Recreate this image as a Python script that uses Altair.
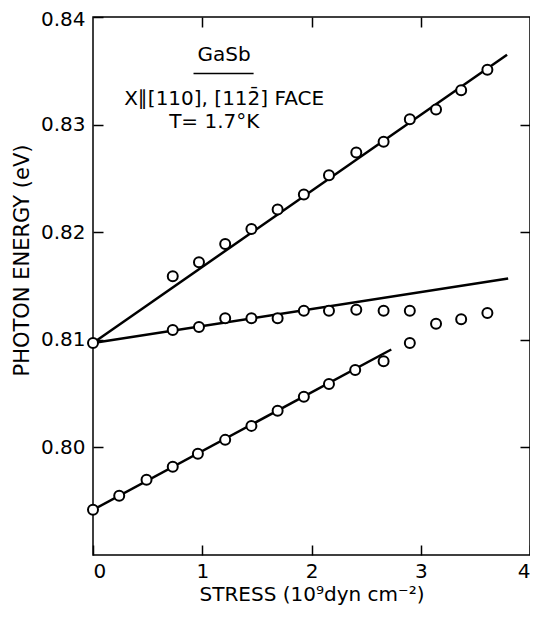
import altair as alt
import pandas as pd

# Data (stress in 1e9 dyn/cm^2, photon energy in eV)
upper_x = [0.73, 0.97, 1.21, 1.45, 1.69, 1.93, 2.16, 2.41, 2.66, 2.90, 3.14, 3.37, 3.61]
upper_y = [0.8159, 0.8172, 0.8189, 0.8203, 0.8221, 0.8235, 0.8253, 0.8274, 0.8284, 0.8305, 0.8314, 0.8332, 0.8351]
middle_x = [0.0, 0.73, 0.97, 1.21, 1.45, 1.69, 1.93, 2.16, 2.41, 2.66, 2.90, 3.14, 3.37, 3.61]
middle_y = [0.8097, 0.8109, 0.8112, 0.8120, 0.8120, 0.8120, 0.8127, 0.8127, 0.8128, 0.8127, 0.8127, 0.8115, 0.8119, 0.8125]
lower_x = [0.0, 0.24, 0.49, 0.73, 0.96, 1.21, 1.45, 1.69, 1.93, 2.16, 2.40, 2.66, 2.90]
lower_y = [0.7942, 0.7955, 0.7970, 0.7982, 0.7994, 0.8007, 0.8020, 0.8034, 0.8047, 0.8059, 0.8072, 0.8080, 0.8097]

# fitted straight lines (endpoints)
fit_names = ["upper", "upper", "middle", "middle", "lower", "lower"]
fit_x = [0.0, 3.79, 0.0, 3.80, 0.0, 2.73]
fit_y = [0.8097, 0.8365, 0.8097, 0.8157, 0.7942, 0.8091]

# annotation
ann_text = ["GaSb", "X\u2225[110], [112\u0304] FACE", "T= 1.7\u00b0K"]
ann_x = [1.2, 1.2, 1.11]
ann_y = [0.8365, 0.83235, 0.83023]
underline_x = [0.92]
underline_x2 = [1.47]
underline_y = [0.83475]

x_ticks = [0, 1, 2, 3, 4]
y_ticks = [0.80, 0.81, 0.82, 0.83, 0.84]

FONT = "DejaVu Sans"

pts = pd.DataFrame({
    "x": upper_x + middle_x + lower_x,
    "y": upper_y + middle_y + lower_y,
})
fits = pd.DataFrame({"series": fit_names, "x": fit_x, "y": fit_y})
ann = pd.DataFrame({"text": ann_text, "x": ann_x, "y": ann_y})
ul = pd.DataFrame({"x": underline_x, "x2": underline_x2, "y": underline_y})

xs = alt.Scale(domain=[0, 4], nice=False, zero=False)
ys = alt.Scale(domain=[0.79, 0.84], nice=False, zero=False)

axis_common = dict(grid=False, domain=False, tickColor="black", tickWidth=1.5,
                   tickSize=10, offset=-10, labelColor="black", titleColor="black",
                   labelFont=FONT, titleFont=FONT, labelFontSize=20,
                   titleFontWeight="normal")

x_axis = alt.Axis(orient="bottom", values=x_ticks, format="d", labelPadding=6,
                  labelFlush=True, titleFontSize=20,
                  title="STRESS (10\u2079dyn cm\u207b\u00b2)", titlePadding=3, **axis_common)
y_axis = alt.Axis(orient="left", values=y_ticks, format=".2f", labelPadding=8,
                  labelFlush=1, labelFlushOffset=8,
                  titleFontSize=21,
                  title="PHOTON ENERGY (eV)", titlePadding=8, titleY=243, **axis_common)

lines = alt.Chart(fits).mark_line(color="black", strokeWidth=2.5).encode(
    x=alt.X("x:Q", scale=xs, axis=x_axis),
    y=alt.Y("y:Q", scale=ys, axis=y_axis),
    detail="series:N",
)

mirror_x = alt.Axis(orient="top", values=[1, 2, 3], labels=False, title=None, **axis_common)
mirror_y = alt.Axis(orient="right", values=[0.80, 0.81, 0.82, 0.83], labels=False, title=None, **axis_common)
mirror = alt.Chart(fits).mark_line(opacity=0).encode(
    x=alt.X("x:Q", scale=xs, axis=mirror_x),
    y=alt.Y("y:Q", scale=ys, axis=mirror_y),
    detail="series:N",
)

points = alt.Chart(pts).mark_circle(fill="white", stroke="black", strokeWidth=2,
                                     size=100, opacity=1).encode(
    x=alt.X("x:Q", scale=xs, axis=None),
    y=alt.Y("y:Q", scale=ys, axis=None),
)

texts = alt.Chart(ann).mark_text(font=FONT, fontSize=20, color="black",
                                  align="center", baseline="middle").encode(
    x=alt.X("x:Q", scale=xs, axis=None),
    y=alt.Y("y:Q", scale=ys, axis=None),
    text="text:N",
)

underline = alt.Chart(ul).mark_rule(color="black", strokeWidth=1.5).encode(
    x=alt.X("x:Q", scale=xs, axis=None),
    x2="x2:Q",
    y=alt.Y("y:Q", scale=ys, axis=None),
)

chart = alt.layer(lines, mirror, points, texts, underline).resolve_axis(
    x="independent", y="independent"
).properties(
    width=437, height=538,
    padding={"left": 85, "top": 9, "right": 0, "bottom": 51},
    autosize="none",
).configure_view(stroke="black", strokeWidth=1.5)

chart.save("out.html", embed_options={"renderer": "svg", "actions": False})
